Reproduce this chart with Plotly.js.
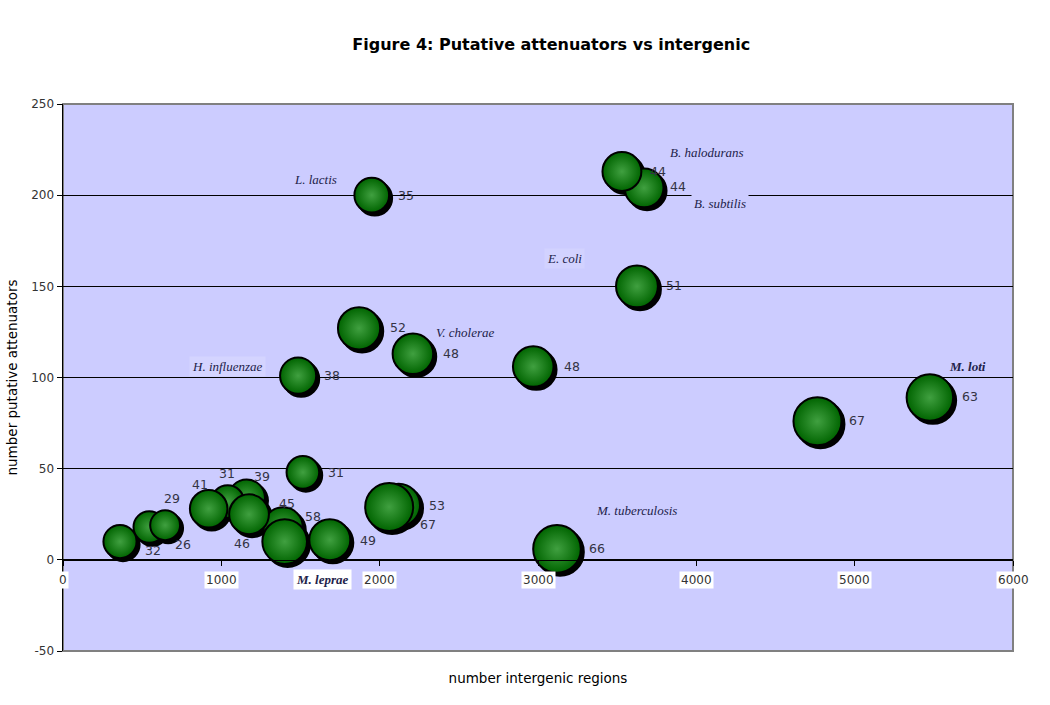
<!DOCTYPE html>
<html>
<head>
<meta charset="utf-8">
<script src="https://cdn.plot.ly/plotly-3.0.1.min.js"></script>
<style>html,body{margin:0;padding:0;background:#fff;}#chart{width:1050px;height:705px;}</style>
</head>
<body>
<div id="chart"></div>
<script>
// ---- data (drawing order: back to front) ----
const intergenic = [1950, 3670, 3530, 3625, 1870, 2210, 1485, 2970, 5475, 4765, 3120, 1515, 2120, 2060, 1685, 1390, 1400, 1160, 1040, 920, 1175, 545, 645, 360];
const attenuators = [200, 204, 213, 150, 127, 113, 101, 106, 89, 76, 6, 48, 30, 29, 11, 18, 10, 34, 32, 28, 25, 18, 19, 10];
const bubbleValue = [35, 44, 44, 51, 52, 48, 38, 48, 63, 67, 66, 31, 53, 67, 49, 45, 58, 39, 31, 41, 46, 29, 26, 32];

// pixel offsets of each value label from its bubble centre (up = positive dy)
const valueLabelDX = [34, 34, 36, 37, 39, 38, 34, 39, 40, 40, 40, 33, 38, 39, 38, 4, 28, 15, -1, -9, -7, 23, 18, 33];
const valueLabelDY = [0, 1, 0, 1, 1, 0, 0, 0, 1, 1, 0, 0, 0, -18, -1, 24, 25, 21, 28, 24, -29, 29, -19, -9];

// species labels: name, index of the bubble they belong to, pixel offset from it
const speciesNames = ['L. lactis', 'B. halodurans', 'B. subtilis', 'E. coli', 'V. cholerae', 'H. influenzae', 'M. loti', 'M. tuberculosis', 'M. leprae'];
const speciesPoint = [0, 2, 1, 3, 5, 6, 8, 10, 16];
const speciesDX = [-56, 85, 76, -72, 52, -71, 38, 79, 38];
const speciesDY = [16, 19, -16, 28, 21, 9, 31, 38, -38];
const speciesBold = [false, false, false, false, false, false, true, false, true];
const speciesBg = ['#ccccff','#ccccff','#ccccff','#d2d2ff','#ccccff','#d4d4ff','#ccccff','#ccccff','#ffffff'];

const xTicks = [0, 1000, 2000, 3000, 4000, 5000, 6000];
const yTicks = [-50, 0, 50, 100, 150, 200, 250];
const xRange = [0, 6000];
const yRange = [-50, 250];

// ---- layout geometry ----
const W = 1050, H = 705;
const M = {l: 63, r: 37, t: 104, b: 54};
const plotW = W - M.l - M.r, plotH = H - M.t - M.b;
const SHADOW_PX = 3;
const sdx = SHADOW_PX * (xRange[1] - xRange[0]) / plotW;
const sdy = SHADOW_PX * (yRange[1] - yRange[0]) / plotH;

const sizeref = 2 * Math.max(...bubbleValue) / (48 * 48);

const shadow = {
  type: 'scatter', mode: 'markers', hoverinfo: 'skip', showlegend: false,
  x: intergenic.map(v => v + sdx),
  y: attenuators.map(v => v - sdy),
  marker: {size: bubbleValue, sizemode: 'area', sizeref: sizeref, color: '#000000', line: {width: 2, color: '#000000'}, opacity: 1}
};
const bubbles = {
  type: 'scatter', mode: 'markers', showlegend: false,
  x: intergenic, y: attenuators,
  marker: {size: bubbleValue, sizemode: 'area', sizeref: sizeref, color: '#006400',
    gradient: {type: 'radial', color: '#40a040'},
    line: {width: 2, color: '#000000'}, opacity: 1}
};

const annotations = [];
bubbleValue.forEach((v, i) => annotations.push({
  x: intergenic[i], y: attenuators[i], xref: 'x', yref: 'y', text: String(v), showarrow: false,
  xshift: valueLabelDX[i], yshift: valueLabelDY[i],
  font: {family: 'DejaVu Sans, sans-serif', size: 12.5, color: '#333344'}
}));
xTicks.forEach(t => annotations.push({
  x: t, y: 0, xref: 'x', yref: 'y', text: String(t), showarrow: false,
  yshift: -20, bgcolor: '#ffffff', borderpad: 1,
  font: {family: 'DejaVu Sans, sans-serif', size: 12, color: '#333333'}
}));
speciesNames.forEach((n, i) => {
  const p = speciesPoint[i];
  annotations.push({
    x: intergenic[p], y: attenuators[p], xref: 'x', yref: 'y',
    text: speciesBold[i] ? '<b><i>' + n + '</i></b>' : '<i>' + n + '</i>',
    showarrow: false, xshift: speciesDX[i], yshift: speciesDY[i],
    bgcolor: speciesBg[i], borderpad: 2,
    font: {family: 'Liberation Serif, Times New Roman, serif', size: 13, color: '#22224a'}
  });
});

const layout = {
  width: W, height: H,
  margin: M,
  paper_bgcolor: '#ffffff', plot_bgcolor: '#ccccff',
  title: {text: '<b>Figure 4: Putative attenuators vs intergenic</b>', x: 0.525, xanchor: 'center', y: 0.937, yanchor: 'middle',
    font: {family: 'DejaVu Sans, sans-serif', size: 16, color: '#000000'}},
  xaxis: {range: xRange, tickvals: xTicks, showticklabels: false, anchor: 'free',
    position: (0 - yRange[0]) / (yRange[1] - yRange[0]),
    showline: true, linecolor: '#000000', linewidth: 1, ticks: 'outside', ticklen: 5, tickcolor: '#000000',
    showgrid: false, zeroline: false,
    title: {text: 'number intergenic regions', standoff: 108, font: {family: 'DejaVu Sans, sans-serif', size: 13.5, color: '#000000'}}},
  yaxis: {range: yRange, tickvals: yTicks, ticktext: yTicks.map(String), showline: true, linecolor: '#000000', linewidth: 1.5,
    ticks: 'outside', ticklen: 5, tickcolor: '#000000',
    showgrid: true, gridcolor: '#000000', gridwidth: 1, zeroline: true, zerolinecolor: '#000000', zerolinewidth: 1,
    tickfont: {family: 'DejaVu Sans, sans-serif', size: 12, color: '#333333'},
    title: {text: 'number putative attenuators', standoff: 10, font: {family: 'DejaVu Sans, sans-serif', size: 13.5, color: '#000000'}}},
  shapes: [{type: 'rect', xref: 'paper', yref: 'paper', x0: 0, x1: 1, y0: 0, y1: 1, line: {color: '#808080', width: 2}, layer: 'below'}],
  annotations: annotations
};

Plotly.newPlot('chart', [shadow, bubbles], layout, {displayModeBar: false, staticPlot: true});
</script>
</body>
</html>
